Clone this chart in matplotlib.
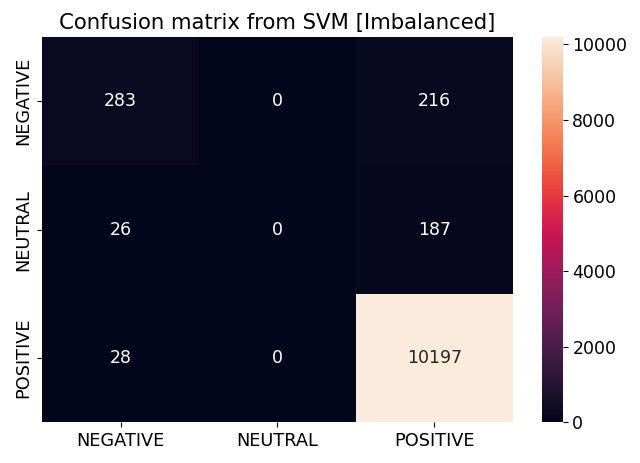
import numpy as np
import matplotlib
matplotlib.use("Agg")
import matplotlib.pyplot as plt
import seaborn as sns

labels = ["NEGATIVE", "NEUTRAL", "POSITIVE"]
cm = np.array([[283, 0, 216],
               [26, 0, 187],
               [28, 0, 10197]])

fig = plt.figure(figsize=(6.4, 4.63), dpi=100)
ax = fig.add_axes([0.066, 0.088, 0.735, 0.832])
cax = fig.add_axes([0.847, 0.088, 0.032, 0.832])
sns.heatmap(cm, annot=True, fmt="d", xticklabels=labels, yticklabels=labels,
            ax=ax, cbar_ax=cax, annot_kws={"fontsize": 12.5})
ax.set_title("Confusion matrix from SVM [Imbalanced]", fontsize=15.3)
ax.tick_params(axis="both", labelsize=12.8)
cax.tick_params(labelsize=12.5)
fig.savefig("out.png", dpi=100)
